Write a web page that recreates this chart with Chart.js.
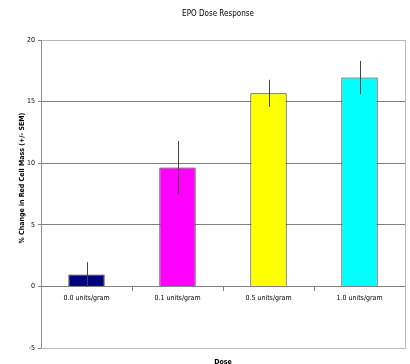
<!DOCTYPE html>
<html><head><meta charset="utf-8">
<script src="https://cdn.jsdelivr.net/npm/chart.js@4"></script>
<style>html,body{margin:0;padding:0;background:#fff}#wrap{width:410px;height:364px}</style>
</head><body><div id="wrap"><canvas id="c" width="410" height="364"></canvas></div>
<script>
const categories = ["0.0 units/gram", "0.1 units/gram", "0.5 units/gram", "1.0 units/gram"];
const values = [0.97, 9.65, 15.67, 16.95];
const errors = [1.0, 2.15, 1.1, 1.35];
const barColors = ["#000080", "#FF00FF", "#FFFF00", "#00FFFF"];
const yTicks = [-5, 0, 5, 10, 15, 20];
const chartTitle = "EPO Dose Response";
const yTitle = "% Change in Red Cell Mass (+/- SEM)";
const xTitle = "Dose";

const FONT = "'Liberation Sans Narrow', 'DejaVu Sans Condensed', 'Liberation Sans', Arial, sans-serif";

const extras = {
  id: 'extras',
  afterDatasetsDraw(chart) {
    const {ctx, chartArea: a, scales: {x, y}} = chart;
    ctx.save();
    ctx.strokeStyle = '#444';
    ctx.lineWidth = 1;
    values.forEach((v, i) => {
      const px = Math.round(x.getPixelForValue(i)) + 0.5;
      ctx.beginPath();
      ctx.moveTo(px, y.getPixelForValue(v + errors[i]));
      ctx.lineTo(px, y.getPixelForValue(v - errors[i]));
      ctx.stroke();
    });
    ctx.strokeStyle = '#b8b8b8';
    ctx.beginPath();
    ctx.moveTo(Math.round(a.right) + 0.5, Math.round(a.top));
    ctx.lineTo(Math.round(a.right) + 0.5, Math.round(a.bottom) + 0.5);
    ctx.lineTo(Math.round(a.left), Math.round(a.bottom) + 0.5);
    ctx.stroke();
    ctx.restore();
  },
  afterDraw(chart) {
    const {ctx, chartArea: a} = chart;
    ctx.save();
    ctx.fillStyle = '#000';
    ctx.textAlign = 'center';
    ctx.textBaseline = 'middle';
    ctx.font = "8px " + FONT;
    ctx.fillText(chartTitle, 218, 14);
    ctx.font = "bold 7px " + FONT;
    ctx.fillText(xTitle, (a.left + a.right) / 2, 362);
    ctx.translate(22, 178);
    ctx.rotate(-Math.PI / 2);
    ctx.fillText(yTitle, 0, 0);
    ctx.restore();
  }
};

new Chart(document.getElementById('c'), {
  type: 'bar',
  data: {
    labels: categories,
    datasets: [{
      data: values,
      backgroundColor: barColors,
      borderColor: '#333',
      borderWidth: 1,
      categoryPercentage: 1,
      barPercentage: 0.4
    }]
  },
  options: {
    responsive: false,
    animation: false,
    devicePixelRatio: 1,
    layout: {padding: {left: 0, right: 5, top: 40, bottom: 16}},
    plugins: {legend: {display: false}, title: {display: false}, tooltip: {enabled: false}},
    scales: {
      x: {
        position: {y: 0},
        grid: {drawOnChartArea: false, drawTicks: true, tickLength: 4, color: '#808080', offset: true},
        border: {color: '#808080'},
        ticks: {color: '#000', padding: 4, font: {family: FONT, size: 7}, maxRotation: 0}
      },
      y: {
        min: -5, max: 20,
        afterFit(s) { s.width = 41; },
        afterBuildTicks(s) { s.ticks = yTicks.map(v => ({value: v})); },
        grid: {
          color: c => (c.tick && c.tick.value === 20) ? '#b8b8b8' : ((c.tick && c.tick.value > 0) ? '#808080' : 'rgba(0,0,0,0)'),
          tickColor: '#808080',
          tickLength: 3,
          drawTicks: true
        },
        border: {color: '#909090'},
        ticks: {color: '#000', padding: 3, font: {family: FONT, size: 7}}
      }
    }
  },
  plugins: [extras]
});
</script>
</body></html>
